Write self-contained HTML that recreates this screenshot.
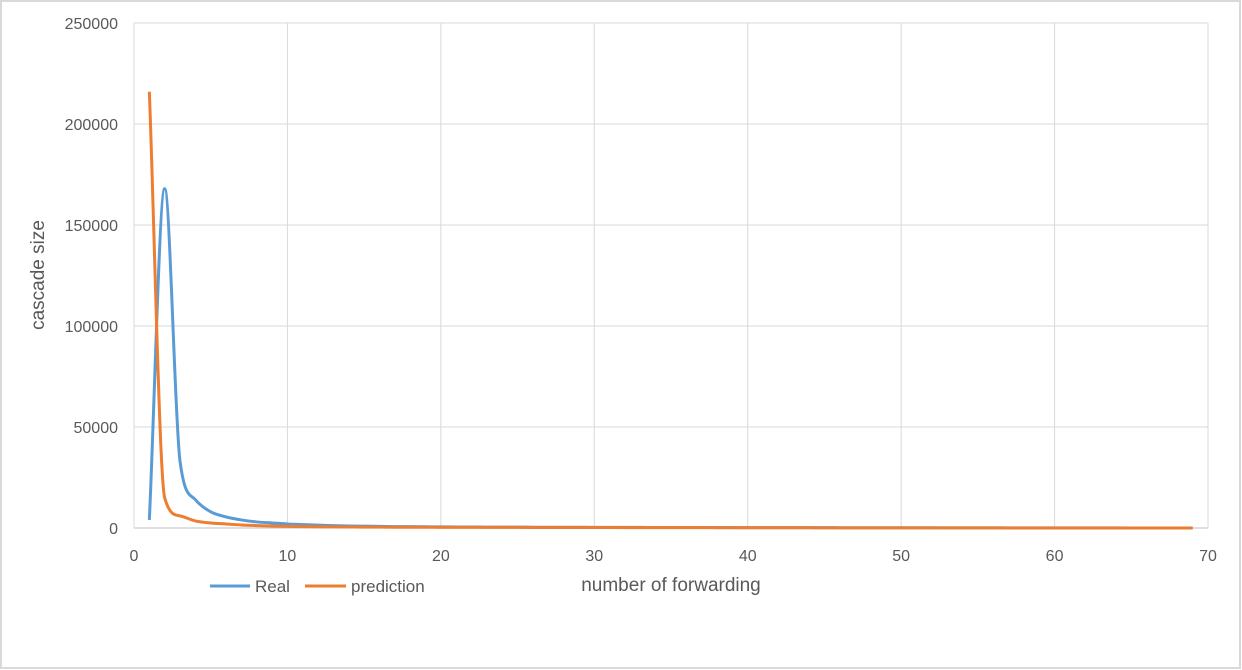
<!DOCTYPE html>
<html><head><meta charset="utf-8"><style>
body{margin:0;background:#fff;}
svg{display:block;font-family:"Liberation Sans",sans-serif;}
</style></head><body>
<svg id="chart" width="1242" height="670">
<rect x="1" y="1" width="1239" height="667" fill="#fff" stroke="#d9d9d9" stroke-width="2"/>
<g id="grid"></g><g id="ticks"></g><g id="series"></g>
<text x="44" y="275" transform="rotate(-90 44 275)" text-anchor="middle" font-size="19" fill="#595959">cascade size</text>
<text x="671" y="591" text-anchor="middle" font-size="19" fill="#595959">number of forwarding</text>
<g>
<g><line x1="210" y1="586" x2="250" y2="586" stroke="#5b9bd5" stroke-width="3"/><text x="255" y="592" font-size="17" fill="#595959">Real</text></g>
<g><line x1="305" y1="586" x2="346" y2="586" stroke="#ed7d31" stroke-width="3"/><text x="351" y="592" font-size="17" fill="#595959">prediction</text></g>
</g>
</svg>
<script>
const xTicks=[0,10,20,30,40,50,60,70];
const yTicks=[0,50000,100000,150000,200000,250000];
const realValues=[4000,168000,33000,14000,8000,5500,4000,3000,2500,2000,1700,1400,1200,1000,900,800,700,650,600,550,500,480,460,440,420,400,390,380,360,340,320,300,280,270,260,250,240,230,220,210,200,190,180,170,160,150,140,130,120,110,100,95,90,85,80,75,70,65,60,55,50,45,40,35,30,25,20,15,10];
const predValues=[216000,15000,6000,3500,2500,2000,1500,1200,1000,800,700,600,550,500,450,420,400,380,360,340,320,310,300,290,280,270,260,250,240,230,220,210,200,190,180,170,160,150,140,130,120,110,100,95,90,85,80,75,70,65,60,55,50,45,40,35,30,28,26,24,22,20,18,16,14,12,10,8,6];
const X0=134,X1=1208,Y0=528,Y1=23;
const sx=v=>X0+(v-0)/70*(X1-X0), sy=v=>Y0-v/250000*(Y0-Y1);
const NS="http://www.w3.org/2000/svg";
const grid=document.getElementById('grid'),ticks=document.getElementById('ticks'),ser=document.getElementById('series');
function mk(t,a,p){const e=document.createElementNS(NS,t);for(const k in a)e.setAttribute(k,a[k]);p.appendChild(e);return e;}
yTicks.forEach(v=>{
 const l=mk('line',{x1:X0,x2:X1,y1:sy(v),y2:sy(v),stroke:v===0?'#bfbfbf':'#d9d9d9','stroke-width':1},grid);
 
 
 const t=mk('text',{x:X0-16,y:sy(v)+6,'text-anchor':'end','font-size':16,fill:'#595959'},ticks);
 t.textContent=v;
 
 
});
xTicks.forEach(v=>{
 const l=mk('line',{x1:sx(v),x2:sx(v),y1:Y1,y2:Y0,stroke:'#d9d9d9','stroke-width':1},grid);
 
 
 const t=mk('text',{x:sx(v),y:Y0+33,'text-anchor':'middle','font-size':16,fill:'#595959'},ticks);
 t.textContent=v;
 
 
});
function path(vals){
 const p=vals.map((v,i)=>[sx(i+1),sy(v)]);
 const n=p.length,h=p[1][0]-p[0][0];
 const d=[];for(let i=0;i<n-1;i++)d.push((p[i+1][1]-p[i][1])/h);
 const m=new Array(n);
 m[0]=d[0];m[n-1]=d[n-2];
 for(let i=1;i<n-1;i++){m[i]=(d[i-1]*d[i]<=0)?0:(d[i-1]+d[i])/2;}
 for(let i=0;i<n-1;i++){
  if(d[i]===0){m[i]=0;m[i+1]=0;continue;}
  const a=m[i]/d[i],b=m[i+1]/d[i],s=a*a+b*b;
  if(s>9){const t=3/Math.sqrt(s);m[i]=t*a*d[i];m[i+1]=t*b*d[i];}
 }
 let s='M'+p[0][0]+','+p[0][1];
 for(let i=0;i<n-1;i++){
  s+=' C'+(p[i][0]+h/3)+','+(p[i][1]+m[i]*h/3)+' '+(p[i+1][0]-h/3)+','+(p[i+1][1]-m[i+1]*h/3)+' '+p[i+1][0]+','+p[i+1][1];
 }
 return s;
}
const r=mk('path',{d:path(realValues),fill:'none',stroke:'#5b9bd5','stroke-width':3,'stroke-linejoin':'round'},ser);


const pr=mk('path',{d:path(predValues),fill:'none',stroke:'#ed7d31','stroke-width':3,'stroke-linejoin':'round'},ser);


</script>
</body></html>
